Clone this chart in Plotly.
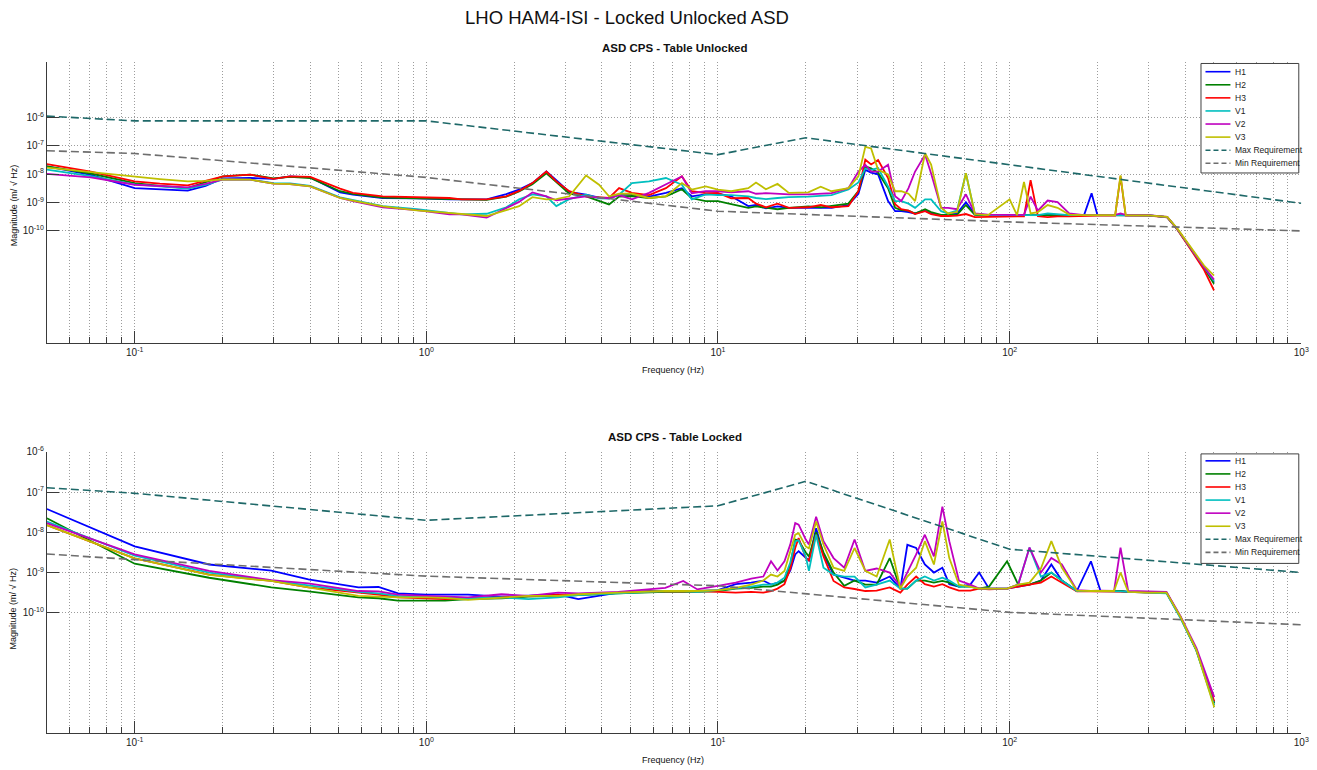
import numpy as np
import plotly.graph_objects as go

# ---------------- data (log10 of magnitude, m/sqrt(Hz)) ----------------
# Table Unlocked
F_UNLOCKED = [0.05, 0.0707, 0.1, 0.122, 0.152, 0.175, 0.201, 0.249, 0.299, 0.341, 0.40, 0.506, 0.56, 0.709,
              0.927, 1.20, 1.32, 1.61, 1.88, 2.08, 2.31, 2.58, 2.79, 3.09, 3.53, 3.91, 4.23, 4.58, 5.07, 5.80,
              6.63, 7.52, 8.13, 9.08, 10.0, 11.1, 12.7, 13.5, 14.6, 16.0, 17.5, 20.4, 22.5, 24.5, 28.0, 30.3,
              32.0, 33.5, 35.4, 38.3, 40.5, 42.5, 45.0, 47.4, 51.3, 53.8, 58.2, 61.5, 66.0, 70.8, 76.0, 84.2,
              100, 106, 112, 118, 125, 135, 146, 160, 180, 191, 200, 230, 240, 250, 300, 347, 376, 416, 464, 502]
H1_UNLOCKED = [-7.73, -8.03, -8.50, -8.55, -8.59, -8.42, -8.15, -8.14, -8.17, -8.08,
               -8.12, -8.65, -8.73, -8.85, -8.86, -8.90, -8.90, -8.90, -8.71, -8.55,
               -8.32, -7.91, -8.22, -8.63, -8.73, -8.84, -8.85, -8.73, -8.73, -8.80,
               -8.67, -8.50, -8.79, -8.72, -8.70, -8.79, -9.14, -9.10, -9.22, -9.15,
               -9.20, -9.20, -9.22, -9.20, -9.10, -8.70, -7.85, -7.95, -8.01, -8.96,
               -9.32, -9.32, -9.35, -9.40, -9.30, -9.40, -9.47, -9.45, -9.40, -9.00,
               -9.42, -9.46, -9.46, -9.46, -9.46, -9.46, -9.46, -9.46, -9.46, -9.46,
               -9.46, -8.68, -9.46, -9.46, -9.46, -9.46, -9.47, -9.53, -9.96, -10.61,
               -11.31, -11.85]
H2_UNLOCKED = [-7.73, -7.98, -8.32, -8.42, -8.50, -8.30, -8.08, -8.02, -8.15, -8.10,
               -8.14, -8.61, -8.70, -8.84, -8.86, -8.90, -8.91, -8.92, -8.80, -8.62,
               -8.36, -7.97, -8.28, -8.70, -8.79, -8.96, -9.08, -8.80, -8.78, -8.85,
               -8.79, -8.54, -8.86, -8.96, -8.96, -9.07, -9.20, -9.15, -9.20, -9.25,
               -9.20, -9.15, -9.18, -9.12, -9.05, -8.60, -7.73, -7.80, -7.95, -8.50,
               -9.20, -9.28, -9.30, -9.40, -9.25, -9.35, -9.45, -9.45, -9.45, -9.10,
               -9.45, -9.46, -9.46, -9.46, -9.46, -9.45, -9.46, -9.46, -9.46, -9.46,
               -9.46, -9.46, -9.46, -9.46, -9.46, -9.46, -9.47, -9.53, -9.96, -10.62,
               -11.33, -11.90]
H3_UNLOCKED = [-7.65, -7.91, -8.26, -8.34, -8.40, -8.25, -8.08, -8.02, -8.17, -8.08,
               -8.10, -8.52, -8.67, -8.79, -8.81, -8.85, -8.90, -8.90, -8.79, -8.60,
               -8.32, -7.91, -8.26, -8.61, -8.79, -8.82, -8.85, -8.50, -8.67, -8.75,
               -8.50, -8.08, -8.61, -8.68, -8.67, -8.86, -8.85, -9.05, -9.18, -9.05,
               -9.20, -9.18, -9.10, -9.18, -9.14, -8.61, -7.49, -7.66, -7.50, -8.14,
               -9.07, -9.25, -9.30, -9.42, -9.32, -9.42, -9.49, -9.49, -9.48, -9.42,
               -9.53, -9.52, -9.50, -9.52, -9.50, -8.22, -9.50, -9.53, -9.50, -9.50,
               -9.48, -9.48, -9.48, -9.48, -8.08, -9.48, -9.48, -9.54, -9.98, -10.65,
               -11.40, -12.13]
V1_UNLOCKED = [-7.84, -8.07, -8.37, -8.44, -8.52, -8.38, -8.19, -8.20, -8.32, -8.33,
               -8.42, -8.83, -8.93, -9.14, -9.25, -9.38, -9.43, -9.41, -9.18, -8.90,
               -8.72, -8.79, -9.14, -8.89, -8.73, -8.86, -8.87, -8.73, -8.32, -8.26,
               -8.14, -8.38, -8.90, -8.72, -8.75, -8.75, -8.79, -8.85, -8.89, -8.85,
               -8.82, -8.80, -8.78, -8.75, -8.55, -8.30, -7.80, -7.85, -7.79, -8.44,
               -8.96, -8.96, -9.05, -9.20, -8.90, -8.90, -9.32, -9.40, -9.30, -7.97,
               -9.42, -9.46, -9.46, -9.46, -9.46, -9.46, -9.46, -9.40, -9.42, -9.46,
               -9.46, -9.46, -9.46, -9.46, -9.46, -9.46, -9.47, -9.53, -9.96, -10.61,
               -11.30, -11.80]
V2_UNLOCKED = [-7.99, -8.12, -8.38, -8.43, -8.47, -8.35, -8.19, -8.20, -8.34, -8.36,
               -8.44, -8.85, -8.96, -9.18, -9.28, -9.43, -9.43, -9.55, -9.20, -8.99,
               -8.65, -8.79, -8.93, -8.86, -8.79, -8.84, -8.86, -8.75, -8.90, -8.67,
               -8.38, -8.08, -8.68, -8.61, -8.61, -8.65, -8.61, -8.70, -8.68, -8.70,
               -8.72, -8.72, -8.70, -8.68, -8.50, -7.91, -7.67, -7.91, -7.91, -7.67,
               -8.79, -8.96, -8.50, -7.91, -7.31, -7.98, -9.20, -9.20, -9.25, -8.72,
               -9.40, -9.44, -9.45, -9.45, -9.45, -8.80, -9.30, -8.94, -9.00, -9.40,
               -9.46, -9.46, -9.46, -9.45, -9.40, -9.45, -9.46, -9.52, -9.95, -10.60,
               -11.30, -11.75]
V3_UNLOCKED = [-7.77, -7.93, -8.10, -8.18, -8.26, -8.24, -8.19, -8.20, -8.34, -8.36,
               -8.44, -8.85, -8.94, -9.15, -9.29, -9.38, -9.43, -9.49, -9.28, -9.14,
               -8.82, -8.90, -8.89, -8.79, -8.05, -8.38, -8.79, -8.70, -8.70, -8.85,
               -8.79, -8.32, -8.55, -8.44, -8.55, -8.61, -8.50, -8.30, -8.54, -8.35,
               -8.67, -8.65, -8.45, -8.61, -8.50, -8.08, -7.03, -7.09, -7.85, -8.01,
               -8.61, -8.61, -8.70, -8.96, -7.26, -7.66, -9.20, -9.40, -9.35, -7.97,
               -9.42, -9.46, -8.90, -9.46, -8.28, -9.40, -9.35, -9.10, -9.20, -9.44,
               -9.46, -9.46, -9.46, -9.46, -8.05, -9.46, -9.47, -9.52, -9.94, -10.58,
               -11.25, -11.61]
MAXREQ_UNLOCKED_F = [0.05, 0.1, 1, 10, 20, 1000]
MAXREQ_UNLOCKED = [-5.94, -6.11, -6.11, -7.31, -6.71, -9.04]
MINREQ_UNLOCKED_F = [0.05, 0.1, 1, 10, 100, 1000]
MINREQ_UNLOCKED = [-7.17, -7.27, -8.12, -9.32, -9.70, -10.02]

# Table Locked
F_LOCKED = [0.05, 0.1, 0.18, 0.294, 0.394, 0.585, 0.685, 0.80, 1.0, 1.16, 1.39, 1.81, 2.24, 2.83, 3.32,
            4.55, 5.9, 6.6, 7.6, 8.5, 10.0, 11.5, 13.0, 14.3, 15.2, 16.0, 16.9, 17.7, 18.4, 18.9, 20.0,
            20.5, 21.7, 23.0, 24.9, 27.1, 29.4, 32.0, 35.0, 38.8, 42.2, 44.6, 47.8, 51.2, 55.0, 58.8, 62.1,
            67.0, 73.3, 78.6, 85, 98, 107, 117, 128, 139, 151, 170, 190, 205, 228, 240, 255, 300, 345,
            385, 437, 503]
H1_LOCKED = [-7.42, -8.35, -8.80, -8.95, -9.17, -9.37, -9.36, -9.52, -9.55, -9.55,
             -9.55, -9.60, -9.58, -9.55, -9.66, -9.50, -9.46, -9.46, -9.46, -9.46,
             -9.44, -9.29, -9.25, -9.20, -9.30, -9.25, -9.21, -8.95, -8.55, -8.47,
             -8.64, -8.70, -7.90, -8.55, -9.05, -9.13, -9.20, -9.20, -9.25, -9.10,
             -9.40, -8.31, -8.39, -8.80, -9.00, -8.88, -9.29, -9.35, -9.30, -9.00,
             -9.40, -9.40, -9.35, -9.30, -9.20, -8.80, -9.20, -9.46, -8.72, -9.46,
             -9.46, -9.46, -9.48, -9.50, -9.50, -10.11, -10.93, -12.25]
H2_LOCKED = [-7.65, -8.78, -9.13, -9.37, -9.47, -9.62, -9.64, -9.70, -9.70, -9.70,
             -9.66, -9.64, -9.60, -9.58, -9.56, -9.52, -9.48, -9.48, -9.48, -9.48,
             -9.46, -9.40, -9.38, -9.35, -9.35, -9.30, -9.20, -8.80, -8.18, -8.20,
             -8.50, -8.60, -8.00, -8.50, -9.00, -9.33, -9.20, -9.30, -9.30, -8.64,
             -9.40, -9.40, -9.20, -9.20, -9.25, -9.21, -9.25, -9.35, -9.35, -9.40,
             -9.35, -8.72, -9.30, -9.30, -9.20, -9.00, -9.20, -9.46, -9.46, -9.46,
             -9.46, -9.46, -9.48, -9.50, -9.50, -10.11, -10.93, -12.25]
H3_LOCKED = [-7.82, -8.65, -9.05, -9.21, -9.37, -9.50, -9.55, -9.62, -9.64, -9.66,
             -9.64, -9.62, -9.58, -9.56, -9.54, -9.50, -9.46, -9.46, -9.47, -9.46,
             -9.48, -9.50, -9.48, -9.50, -9.46, -9.40, -9.29, -8.90, -8.39, -8.14,
             -8.64, -8.70, -8.06, -8.60, -9.21, -9.37, -9.41, -9.46, -9.45, -9.37,
             -9.50, -9.30, -9.10, -9.29, -9.35, -9.29, -9.37, -9.45, -9.45, -9.40,
             -9.42, -9.40, -9.35, -9.30, -9.25, -9.10, -9.25, -9.47, -9.47, -9.47,
             -9.48, -9.48, -9.48, -9.50, -9.50, -10.11, -10.93, -12.20]
V1_LOCKED = [-7.73, -8.58, -9.00, -9.21, -9.32, -9.48, -9.52, -9.58, -9.60, -9.62,
             -9.64, -9.62, -9.66, -9.62, -9.56, -9.52, -9.48, -9.46, -9.46, -9.48,
             -9.44, -9.40, -9.35, -9.30, -9.30, -9.25, -9.13, -8.75, -8.22, -8.20,
             -8.60, -8.96, -8.06, -8.88, -9.05, -9.10, -9.10, -9.37, -9.30, -9.20,
             -9.40, -9.40, -9.20, -9.10, -9.20, -9.13, -9.20, -9.35, -9.35, -9.40,
             -9.40, -9.40, -9.30, -8.38, -9.10, -9.00, -9.20, -9.46, -9.46, -9.46,
             -9.47, -9.47, -9.48, -9.50, -9.52, -10.13, -10.95, -12.30]
V2_LOCKED = [-7.77, -8.55, -8.96, -9.19, -9.27, -9.46, -9.47, -9.55, -9.58, -9.60,
             -9.62, -9.54, -9.58, -9.50, -9.52, -9.48, -9.42, -9.38, -9.21, -9.42,
             -9.33, -9.25, -9.15, -9.10, -8.72, -8.95, -8.72, -8.30, -7.77, -7.81,
             -8.18, -8.30, -7.61, -8.22, -8.64, -8.88, -8.18, -8.96, -8.90, -9.00,
             -9.35, -9.00, -8.55, -8.06, -8.60, -7.36, -8.22, -9.20, -9.30, -9.40,
             -9.40, -9.40, -9.30, -8.38, -9.00, -8.64, -8.80, -9.44, -9.46, -9.45,
             -9.46, -8.38, -9.46, -9.48, -9.48, -10.08, -10.88, -12.10]
V3_LOCKED = [-7.82, -8.65, -9.06, -9.21, -9.37, -9.58, -9.60, -9.62, -9.62, -9.63,
             -9.68, -9.62, -9.58, -9.58, -9.54, -9.50, -9.46, -9.46, -9.46, -9.46,
             -9.44, -9.38, -9.30, -9.20, -9.05, -9.10, -8.96, -8.50, -8.06, -8.02,
             -8.35, -8.40, -7.73, -8.31, -8.88, -8.96, -8.39, -8.96, -9.10, -8.18,
             -9.40, -9.10, -8.88, -8.22, -8.80, -7.73, -8.64, -9.30, -9.35, -9.40,
             -9.40, -9.40, -9.30, -9.25, -8.90, -8.22, -8.88, -9.45, -9.46, -9.46,
             -9.46, -9.00, -9.48, -9.50, -9.50, -10.10, -10.93, -12.35]
MAXREQ_LOCKED_F = [0.05, 0.1, 1, 10, 20, 100, 1000]
MAXREQ_LOCKED = [-6.89, -7.03, -7.70, -7.34, -6.73, -8.42, -9.00]
MINREQ_LOCKED_F = [0.05, 0.1, 1, 10, 100, 1000]
MINREQ_LOCKED = [-8.54, -8.68, -9.09, -9.33, -9.99, -10.30]

SERIES_NAMES = ["H1", "H2", "H3", "V1", "V2", "V3"]
COLORS = ["#0000ff", "#008000", "#ff0000", "#00bfbf", "#bf00bf", "#bfbf00"]
MAX_COLOR = "#1e6868"
MIN_COLOR = "#6e6e6e"

X_TICKS = [0.1, 1, 10, 100, 1000]
X_TICKTEXT = ["10<sup>-1</sup>", "10<sup>0</sup>", "10<sup>1</sup>", "10<sup>2</sup>", "10<sup>3</sup>"]
Y_TICKS = [1e-10, 1e-9, 1e-8, 1e-7, 1e-6]
Y_TICKTEXT = ["10<sup>-10</sup>", "10<sup>-9</sup>", "10<sup>-8</sup>", "10<sup>-7</sup>", "10<sup>-6</sup>"]

# ---------------- figure ----------------
W, H = 1317, 770
FONT = "Liberation Sans, Arial, sans-serif"
SX = 0.996   # small horizontal render correction
OY = 4       # small vertical offset correction (px)


def px_x(p):
    return (p / SX) / W


def px_y(p):
    return 1 - (p - OY) / H


minor_x = [m * 10.0 ** e for e in range(-2, 3) for m in range(2, 10) if 0.05 <= m * 10.0 ** e <= 1000]

fig = go.Figure()

panels = [
    ("x", "y", F_UNLOCKED, [H1_UNLOCKED, H2_UNLOCKED, H3_UNLOCKED, V1_UNLOCKED, V2_UNLOCKED, V3_UNLOCKED],
     MAXREQ_UNLOCKED_F, MAXREQ_UNLOCKED, MINREQ_UNLOCKED_F, MINREQ_UNLOCKED),
    ("x2", "y2", F_LOCKED, [H1_LOCKED, H2_LOCKED, H3_LOCKED, V1_LOCKED, V2_LOCKED, V3_LOCKED],
     MAXREQ_LOCKED_F, MAXREQ_LOCKED, MINREQ_LOCKED_F, MINREQ_LOCKED),
]

for xa, ya, f, series, mxf, mx, mnf, mn in panels:
    for name, col, vals in zip(SERIES_NAMES, COLORS, series):
        fig.add_trace(go.Scatter(x=f, y=np.power(10.0, vals), mode="lines", name=name,
                                 line=dict(color=col, width=1.8), xaxis=xa, yaxis=ya, showlegend=False))
    fig.add_trace(go.Scatter(x=mxf, y=np.power(10.0, mx), mode="lines", name="Max Requirement",
                             line=dict(color=MAX_COLOR, width=1.6, dash="8px,4px"), xaxis=xa, yaxis=ya,
                             showlegend=False))
    fig.add_trace(go.Scatter(x=mnf, y=np.power(10.0, mn), mode="lines", name="Min Requirement",
                             line=dict(color=MIN_COLOR, width=1.6, dash="8px,4px"), xaxis=xa, yaxis=ya,
                             showlegend=False))

AX_COLOR = "#3a3a3a"
GRID_COLOR = "#9c9c9c"
GRID_DASH = "1px,2px"
xaxis_common = dict(
    type="log", range=[np.log10(0.05), 3], tickmode="array", tickvals=X_TICKS, ticktext=X_TICKTEXT,
    ticks="inside", ticklen=12, tickcolor=AX_COLOR, showline=True, linecolor=AX_COLOR, linewidth=1,
    showgrid=True, gridcolor=GRID_COLOR, griddash=GRID_DASH, gridwidth=1, zeroline=False,
    ticklabeloverflow="allow",
    tickfont=dict(family=FONT, size=10, color="#222"),
    minor=dict(tickmode="array", tickvals=minor_x, ticks="inside", ticklen=6, tickcolor=AX_COLOR,
               showgrid=True, gridcolor=GRID_COLOR, griddash=GRID_DASH, gridwidth=1),
)
yaxis_common = dict(
    type="log", tickmode="array", tickvals=Y_TICKS, ticktext=Y_TICKTEXT,
    ticks="inside", ticklen=12, tickcolor=AX_COLOR, showline=True, linecolor=AX_COLOR, linewidth=1,
    showgrid=True, gridcolor=GRID_COLOR, griddash=GRID_DASH, gridwidth=1, zeroline=False,
    tickfont=dict(family=FONT, size=10, color="#222"),
)

fig.update_layout(
    width=W, height=H, margin=dict(l=0, r=0, t=0, b=0),
    paper_bgcolor="white", plot_bgcolor="white", showlegend=False,
    font=dict(family=FONT, color="#111"),
    xaxis=dict(xaxis_common, domain=[px_x(47), px_x(1304)], anchor="y"),
    yaxis=dict(yaxis_common, domain=[px_y(343), px_y(59)], range=[-14, -4], anchor="x"),
    xaxis2=dict(xaxis_common, domain=[px_x(47), px_x(1304)], anchor="y2"),
    yaxis2=dict(yaxis_common, domain=[px_y(737), px_y(453)], range=[-13, -6], anchor="x2"),
)

annotations = [
    dict(text="LHO HAM4-ISI - Locked Unlocked ASD", x=628, y=15, size=18.5),
    dict(text="<b>ASD CPS - Table Unlocked</b>", x=676, y=45, size=11.5),
    dict(text="<b>ASD CPS - Table Locked</b>", x=676, y=438, size=11.5),
    dict(text="Frequency (Hz)", x=674, y=370, size=9),
    dict(text="Frequency (Hz)", x=674, y=764, size=9),
]
ann_list = []
for a in annotations:
    ann_list.append(dict(text=a["text"], x=px_x(a["x"]), y=px_y(a["y"]), xref="paper", yref="paper",
                         showarrow=False, xanchor="center", yanchor="middle",
                         font=dict(family=FONT, size=a["size"], color="#111")))
for yc in (204, 611):
    ann_list.append(dict(text="Magnitude (m/ √ Hz)", x=px_x(14), y=px_y(yc), xref="paper", yref="paper",
                         showarrow=False, textangle=-90, xanchor="center", yanchor="middle",
                         font=dict(family=FONT, size=9, color="#111")))

# manual legends (MATLAB-style boxes)
shapes = []
legend_entries = [(n, c, "solid") for n, c in zip(SERIES_NAMES, COLORS)] + \
                 [("Max Requirement", MAX_COLOR, "dash"), ("Min Requirement", MIN_COLOR, "dash")]
for top, first in ((61, 69.3), (455, 462)):
    shapes.append(dict(type="rect", xref="paper", yref="paper", x0=px_x(1203.5), x1=px_x(1301.5),
                       y0=px_y(top + 110.5), y1=px_y(top), line=dict(color="#404040", width=1),
                       fillcolor="white", layer="above"))
    for i, (name, col, dash) in enumerate(legend_entries):
        yy = first + i * 13.2
        shapes.append(dict(type="line", xref="paper", yref="paper", x0=px_x(1208), x1=px_x(1233),
                           y0=px_y(yy), y1=px_y(yy), layer="above",
                           line=dict(color=col, width=1.6, dash="5px,3px" if dash == "dash" else "solid")))
        ann_list.append(dict(text=name, x=px_x(1235.5), y=px_y(yy), xref="paper", yref="paper",
                             showarrow=False, xanchor="left", yanchor="middle",
                             font=dict(family=FONT, size=8.5, color="#222")))

fig.update_layout(annotations=ann_list, shapes=shapes)

fig.write_html("out.html")
